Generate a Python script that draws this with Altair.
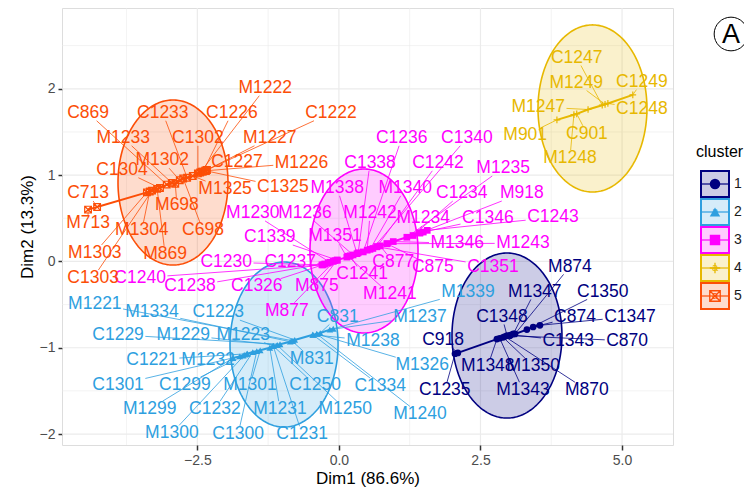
import math
import numpy as np
import pandas as pd
import altair as alt

CLUSTERS = ["1", "2", "3", "4", "5"]
COLORS = ["#000080", "#2E9FDF", "#FF00FF", "#E7B800", "#FC4E07"]

X_TICKS = [-2.5, 0.0, 2.5, 5.0]
X_MINOR = [-3.75, -1.25, 1.25, 3.75]
Y_TICKS = [-2, -1, 0, 1, 2]
Y_MINOR = [-1.5, -0.5, 0.5, 1.5, 2.5]
X_DOMAIN = [-4.89, 5.90]
Y_DOMAIN = [-2.127, 2.936]

# ellipse per cluster: centre x, centre y, radius x, radius y (data units)
ELL_CX = [2.968, -0.969, 0.443, 4.478, -2.930]
ELL_CY = [-0.859, -0.963, 0.121, 1.772, 0.914]
ELL_RX = [0.971, 0.954, 0.954, 0.962, 0.971]
ELL_RY = [0.956, 0.956, 0.950, 0.968, 0.956]

# (label, point x, point y, label x, label y)
cluster1 = [
    ("M874", 3.11, -0.84, 4.08, -0.06),
    ("M1347", 3.08, -0.84, 3.46, -0.35),
    ("C1350", 3.32, -0.79, 4.66, -0.35),
    ("C1348", 2.97, -0.86, 2.88, -0.64),
    ("C874", 3.43, -0.76, 4.17, -0.64),
    ("C1347", 3.55, -0.74, 5.14, -0.64),
    ("C918", 2.10, -1.06, 1.84, -0.91),
    ("C1343", 3.04, -0.85, 4.05, -0.92),
    ("C870", 3.02, -0.86, 5.09, -0.92),
    ("M1348", 2.79, -0.90, 2.63, -1.21),
    ("M1350", 2.90, -0.88, 3.43, -1.21),
    ("C1235", 2.05, -1.07, 1.87, -1.49),
    ("M1343", 2.84, -0.89, 3.25, -1.49),
    ("M870", 2.93, -0.87, 4.38, -1.49),
]
cluster2 = [
    ("M1221", -0.81, -0.92, -4.31, -0.49),
    ("M1334", -0.86, -0.93, -3.30, -0.59),
    ("C1223", -0.78, -0.91, -2.13, -0.59),
    ("C1229", -1.04, -0.96, -3.90, -0.85),
    ("M1229", -1.09, -0.97, -2.75, -0.85),
    ("M1223", -1.16, -0.98, -1.69, -0.85),
    ("C831", -0.33, -0.83, -0.02, -0.64),
    ("M1238", -0.46, -0.85, 0.60, -0.92),
    ("M1237", -0.16, -0.79, 1.43, -0.64),
    ("M1339", -0.10, -0.78, 2.28, -0.35),
    ("C1221", -1.62, -1.07, -3.30, -1.14),
    ("M1232", -1.75, -1.10, -2.31, -1.14),
    ("M831", -0.83, -0.92, -0.48, -1.13),
    ("M1326", -0.39, -0.84, 1.47, -1.20),
    ("C1301", -1.69, -1.09, -3.90, -1.43),
    ("C1299", -1.62, -1.07, -2.72, -1.43),
    ("M1301", -1.39, -1.03, -1.57, -1.43),
    ("C1250", -1.16, -0.98, -0.42, -1.43),
    ("C1334", -0.46, -0.85, 0.73, -1.44),
    ("M1299", -1.87, -1.12, -3.34, -1.71),
    ("C1232", -1.52, -1.05, -2.19, -1.71),
    ("M1231", -1.22, -1.00, -1.04, -1.71),
    ("M1250", -1.09, -0.97, 0.11, -1.71),
    ("M1240", -0.39, -0.84, 1.43, -1.77),
    ("M1300", -1.66, -1.08, -2.95, -1.99),
    ("C1300", -1.45, -1.04, -1.78, -2.00),
    ("C1231", -1.16, -0.98, -0.65, -2.00),
]
cluster3 = [
    ("C1236", 0.43, 0.11, 1.11, 1.43),
    ("C1340", 0.60, 0.15, 2.26, 1.43),
    ("C1338", 0.34, 0.10, 0.55, 1.14),
    ("C1242", 0.67, 0.17, 1.75, 1.14),
    ("M1235", 1.20, 0.28, 2.90, 1.08),
    ("M1338", 0.32, 0.09, -0.03, 0.85),
    ("M1340", 0.55, 0.14, 1.17, 0.85),
    ("C1234", 1.31, 0.30, 2.17, 0.79),
    ("M918", 1.43, 0.33, 3.23, 0.79),
    ("M1230", -0.16, -0.01, -1.52, 0.56),
    ("M1236", 0.25, 0.075, -0.60, 0.56),
    ("M1242", 0.50, 0.13, 0.55, 0.56),
    ("M1234", 1.43, 0.33, 1.49, 0.50),
    ("C1346", 1.49, 0.34, 2.63, 0.50),
    ("C1243", 1.56, 0.36, 3.78, 0.51),
    ("C1339", -0.03, 0.015, -1.22, 0.28),
    ("M1351", 0.14, 0.05, -0.07, 0.29),
    ("M1346", 0.96, 0.23, 2.09, 0.21),
    ("M1243", 0.85, 0.205, 3.25, 0.21),
    ("C1230", -0.28, -0.04, -1.99, -0.01),
    ("C1237", -0.25, -0.03, -0.86, -0.01),
    ("C877", 0.73, 0.18, 0.96, -0.01),
    ("C875", 0.85, 0.205, 1.66, -0.06),
    ("C1351", 0.67, 0.17, 2.72, -0.06),
    ("C1241", 0.20, 0.065, 0.41, -0.15),
    ("C1240", -0.30, -0.04, -3.51, -0.19),
    ("C1238", -0.19, -0.02, -2.63, -0.29),
    ("C1326", -0.10, 0.00, -1.45, -0.29),
    ("M875", -0.03, 0.015, -0.39, -0.29),
    ("M1241", 0.16, 0.06, 0.90, -0.38),
    ("M877", -0.07, 0.01, -0.92, -0.57),
]
cluster4 = [
    ("C1247", 4.65, 1.81, 4.20, 2.36),
    ("M1249", 4.70, 1.82, 4.19, 2.07),
    ("C1249", 5.19, 1.93, 5.35, 2.08),
    ("M1247", 4.40, 1.76, 3.52, 1.79),
    ("C1248", 4.75, 1.83, 5.35, 1.77),
    ("M901", 3.85, 1.64, 3.29, 1.46),
    ("C901", 4.20, 1.71, 4.38, 1.48),
    ("M1248", 4.15, 1.70, 4.08, 1.20),
]
cluster5 = [
    ("M1222", -2.45, 1.03, -1.30, 2.01),
    ("C869", -3.04, 0.89, -4.43, 1.72),
    ("C1233", -2.68, 0.97, -3.11, 1.72),
    ("C1226", -2.40, 1.04, -1.89, 1.72),
    ("C1222", -2.33, 1.06, -0.14, 1.72),
    ("M1233", -2.95, 0.91, -3.81, 1.43),
    ("C1302", -2.49, 1.02, -2.49, 1.43),
    ("M1227", -2.36, 1.05, -1.22, 1.43),
    ("M1302", -2.81, 0.94, -3.12, 1.17),
    ("C1227", -2.42, 1.04, -1.80, 1.15),
    ("M1226", -2.35, 1.05, -0.66, 1.14),
    ("C1304", -3.16, 0.85, -3.83, 1.06),
    ("M1325", -2.58, 0.99, -2.01, 0.84),
    ("C1325", -2.35, 1.05, -0.99, 0.86),
    ("C713", -4.27, 0.63, -4.43, 0.79),
    ("M698", -2.89, 0.90, -2.86, 0.65),
    ("M713", -4.43, 0.60, -4.43, 0.44),
    ("M1304", -3.34, 0.81, -3.48, 0.36),
    ("C698", -2.75, 0.96, -2.40, 0.36),
    ("M1303", -3.39, 0.80, -4.31, 0.10),
    ("M869", -3.21, 0.84, -3.07, 0.09),
    ("C1303", -3.30, 0.82, -4.34, -0.19),
]
ALL = [cluster1, cluster2, cluster3, cluster4, cluster5]

W, H = 611, 437
FONT = 17.5
FONT_FAMILY = "Liberation Sans"
SX = W / (X_DOMAIN[1] - X_DOMAIN[0])
SY = H / (Y_DOMAIN[1] - Y_DOMAIN[0])
CHAR_W = {"C": 0.722, "M": 0.833}


def text_w(s):
    return sum(CHAR_W.get(ch, 0.556) for ch in s) * FONT


rows, segs = [], []
for cl, items in zip(CLUSTERS, ALL):
    for name, px, py, lx, ly in items:
        rows.append({"cluster": cl, "name": name, "px": px, "py": py, "lx": lx, "ly": ly})
        dxp = (px - lx) * SX
        dyp = (py - ly) * SY
        dist = math.hypot(dxp, dyp)
        hw = text_w(name) / 2 + 1.5
        hh = FONT * 0.36 + 1.5
        tx = hw / abs(dxp) if dxp else math.inf
        ty = hh / abs(dyp) if dyp else math.inf
        t = min(tx, ty)
        if t < 1 and dist * (1 - t) > 5:
            segs.append({"cluster": cl, "x": lx + (px - lx) * t, "y": ly + (py - ly) * t,
                         "x2": px, "y2": py})
df = pd.DataFrame(rows)
pts = df.rename(columns={"px": "x", "py": "y"})
labs = df.rename(columns={"lx": "x", "ly": "y"})
segdf = pd.DataFrame(segs)

ell_rows = []
tt = np.linspace(0, np.pi, 121)
for cl, cx, cy, rx, ry in zip(CLUSTERS, ELL_CX, ELL_CY, ELL_RX, ELL_RY):
    for t in tt:
        ell_rows.append({"cluster": cl, "x": cx + rx * np.cos(t),
                         "y": cy + ry * np.sin(t), "y2": cy - ry * np.sin(t)})
elldf = pd.DataFrame(ell_rows)

PLUS = "M-1,0L1,0M0,-1L0,1"
SQX = "M-1,-1L1,-1L1,1L-1,1Z M-1,-1L1,1 M1,-1L-1,1"
SHAPES = ["circle", "triangle-up", "square", PLUS, SQX]

cscale = alt.Scale(domain=CLUSTERS, range=COLORS)
sscale = alt.Scale(domain=CLUSTERS, range=SHAPES)
xs = alt.Scale(domain=X_DOMAIN, nice=False, zero=False)
ys = alt.Scale(domain=Y_DOMAIN, nice=False, zero=False)
xaxis = alt.Axis(values=X_TICKS, format=".1f", grid=False, domain=False, tickSize=5, tickWidth=1.5,
                 tickColor="#333333", labelFontSize=14, labelColor="#4D4D4D", labelPadding=3,
                 titleFontSize=17, titleFontWeight="normal", titleColor="#000000", titlePadding=3,
                 labelFont=FONT_FAMILY, titleFont=FONT_FAMILY)
yaxis = alt.Axis(values=Y_TICKS, format="d", grid=False, domain=False, tickSize=4, tickWidth=1.5,
                 tickColor="#333333", labelFontSize=14, labelColor="#4D4D4D", labelPadding=3,
                 titleFontSize=17, titleFontWeight="normal", titleColor="#000000", titlePadding=3,
                 labelFont=FONT_FAMILY, titleFont=FONT_FAMILY)
X = alt.X("x:Q", scale=xs, axis=xaxis, title="Dim1 (86.6%)")
Y = alt.Y("y:Q", scale=ys, axis=yaxis, title="Dim2 (13.3%)")
col = alt.Color("cluster:N", scale=cscale, legend=None)

grid_minor_x = alt.Chart(pd.DataFrame({"x": X_MINOR})).mark_rule(color="#EBEBEB", strokeWidth=0.6).encode(x=X)
grid_minor_y = alt.Chart(pd.DataFrame({"y": Y_MINOR})).mark_rule(color="#EBEBEB", strokeWidth=0.6).encode(y=Y)
grid_major_x = alt.Chart(pd.DataFrame({"x": X_TICKS})).mark_rule(color="#EBEBEB", strokeWidth=1.2).encode(x=X)
grid_major_y = alt.Chart(pd.DataFrame({"y": Y_TICKS})).mark_rule(color="#EBEBEB", strokeWidth=1.2).encode(y=Y)

ellipses = alt.Chart(elldf).mark_area(fillOpacity=0.2, strokeWidth=1.6).encode(
    x=X, y=Y, y2="y2:Q",
    fill=alt.Fill("cluster:N", scale=cscale, legend=None),
    stroke=alt.Stroke("cluster:N", scale=cscale, legend=None),
)
lines = alt.Chart(pts).mark_line(strokeWidth=2).encode(
    x=X, y=Y, color=col, detail="cluster:N", order="x:Q")
pts_filled = alt.Chart(pts[pts.cluster.isin(["1", "2", "3"])]).mark_point(
    filled=True, size=45, opacity=1).encode(
    x=X, y=Y, color=col, shape=alt.Shape("cluster:N", scale=sscale, legend=None))
pts_open = alt.Chart(pts[pts.cluster.isin(["4", "5"])]).mark_point(
    filled=False, size=45, strokeWidth=1.2, opacity=1).encode(
    x=X, y=Y, color=col, shape=alt.Shape("cluster:N", scale=sscale, legend=None))
segments = alt.Chart(segdf).mark_rule(strokeWidth=0.8).encode(
    x=X, y=Y, x2="x2:Q", y2="y2:Q", color=col)
labels = alt.Chart(labs).mark_text(fontSize=FONT, font=FONT_FAMILY, align="center",
                                   baseline="middle").encode(
    x=X, y=Y, text="name:N", color=col)

layers = [grid_minor_x, grid_minor_y, grid_major_x, grid_major_y, ellipses, lines,
          pts_filled, pts_open, segments, labels]

# legend (drawn in pixel space to the right of the panel)
KEY_X0, KEY_X1 = 639, 667
KEY_CX = (KEY_X0 + KEY_X1) / 2
for i, cl in enumerate(CLUSTERS):
    cy = 176 + 28 * i
    one = pd.DataFrame({"cluster": [cl]})
    layers.append(alt.Chart(one).mark_rect(fillOpacity=0.2, strokeWidth=2).encode(
        x=alt.value(KEY_X0), x2=alt.value(KEY_X1), y=alt.value(cy - 13), y2=alt.value(cy + 13),
        fill=alt.Fill("cluster:N", scale=cscale, legend=None),
        stroke=alt.Stroke("cluster:N", scale=cscale, legend=None)))
    layers.append(alt.Chart(one).mark_rule(strokeWidth=1.2).encode(
        x=alt.value(KEY_X0 + 1), x2=alt.value(KEY_X1 - 1), y=alt.value(cy),
        color=col))
    layers.append(alt.Chart(one).mark_point(filled=cl in ["1", "2", "3"], size=110,
                                            strokeWidth=1.3, opacity=1).encode(
        x=alt.value(KEY_CX), y=alt.value(cy), color=col,
        shape=alt.Shape("cluster:N", scale=sscale, legend=None)))
    layers.append(alt.Chart(one).mark_text(fontSize=11, font=FONT_FAMILY, baseline="middle").encode(
        x=alt.value(KEY_CX), y=alt.value(cy), text=alt.value("a"), color=col))
    layers.append(alt.Chart(one).mark_text(fontSize=14, font=FONT_FAMILY, align="left",
                                           baseline="middle", color="#1A1A1A").encode(
        x=alt.value(672), y=alt.value(cy), text="cluster:N"))

one0 = pd.DataFrame({"k": [0]})
layers.append(alt.Chart(one0).mark_text(fontSize=16, font=FONT_FAMILY, align="left",
                                        baseline="middle", color="#000000").encode(
    x=alt.value(634), y=alt.value(144), text=alt.value("cluster")))
layers.append(alt.Chart(one0).mark_point(shape="circle", size=1134, filled=False,
                                         color="#000000", strokeWidth=1, opacity=1).encode(
    x=alt.value(669), y=alt.value(26)))
layers.append(alt.Chart(one0).mark_text(fontSize=27, font=FONT_FAMILY, align="center",
                                        baseline="middle", color="#000000", dy=1).encode(
    x=alt.value(669), y=alt.value(26), text=alt.value("A")))

chart = alt.layer(*layers).properties(
    width=W, height=H,
    padding={"left": 54, "top": 0, "right": 71, "bottom": 43},
    autosize=alt.AutoSizeParams(type="none"),
    background="white",
).configure_view(strokeWidth=0).configure(font=FONT_FAMILY)

chart.save("out.html", embed_options={"renderer": "svg", "actions": False})
